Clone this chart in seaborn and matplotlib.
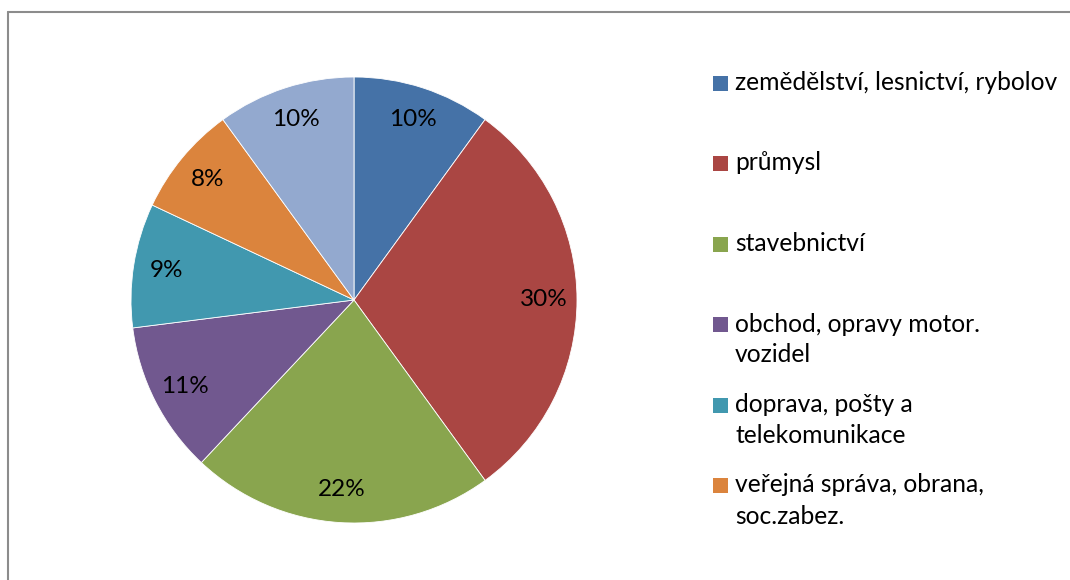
import matplotlib
matplotlib.use("Agg")
import matplotlib.pyplot as plt
import seaborn as sns
from matplotlib.patches import Rectangle
from matplotlib.lines import Line2D

sns.set_theme(style="white")
plt.rcParams['font.family'] = ['Lato', 'DejaVu Sans']

categories = [
    "zemědělství, lesnictví, rybolov",
    "průmysl",
    "stavebnictví",
    "obchod, opravy motor.\nvozidel",
    "doprava, pošty a\ntelekomunikace",
    "veřejná správa, obrana,\nsoc.zabez.",
    "ostatní",
]
values = [10, 30, 22, 11, 9, 8, 10]
legend_count = 6  # the last entry is cut off in the original
colors = ["#4572A7", "#AA4643", "#89A54E", "#71588F", "#4198AF", "#DB843D", "#93A9CF"]

W, H = 1070, 580
fig = plt.figure(figsize=(W / 100, H / 100), dpi=100)

# pie axes: center (354, 300), radius ~223 px
cx, cy, r = 354, 300, 223
ax = fig.add_axes([(cx - r) / W, 1 - (cy + r) / H, 2 * r / W, 2 * r / H])
wedges, texts, autotexts = ax.pie(
    values, colors=colors, startangle=90, counterclock=False,
    autopct=lambda p: f"{p:.0f}%", pctdistance=0.85, radius=1.0,
    wedgeprops=dict(edgecolor="white", linewidth=0.6),
    textprops=dict(fontsize=17.5, color="black"),
)
ax.set_xlim(-1, 1)
ax.set_ylim(-1, 1)
ax.set_aspect("equal")
ax.axis("off")

# outer border (left and top visible)
fig.add_artist(Line2D([8 / W, 8 / W], [1 - 11.5 / H, 0], transform=fig.transFigure,
                      color="#8c8c8c", linewidth=1.5))
fig.add_artist(Line2D([8 / W, 1], [1 - 11.5 / H, 1 - 11.5 / H], transform=fig.transFigure,
                      color="#8c8c8c", linewidth=1.5))

# legend
y0, step, line_h = 83, 80.5, 31
for i in range(legend_count):
    y = y0 + i * step
    fig.add_artist(Rectangle((713 / W, 1 - (y + 7.5) / H), 15 / W, 15 / H,
                             transform=fig.transFigure, facecolor=colors[i],
                             edgecolor="none"))
    for j, line in enumerate(categories[i].split("\n")):
        fig.text(735 / W, 1 - (y + 7 + j * line_h) / H, line, fontsize=17.7,
                 color="black", va="baseline", ha="left")

fig.savefig("out.png", dpi=100, facecolor="white")
